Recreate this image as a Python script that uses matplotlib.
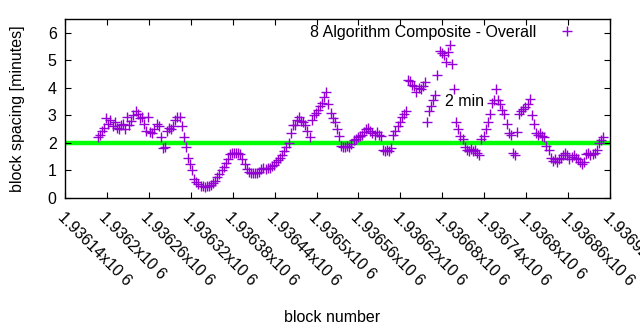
import numpy as np
import matplotlib
matplotlib.use("Agg")
import matplotlib.pyplot as plt

# block spacing samples, every 3rd block starting at first_block
first_block = 1936187
block_step = 3
spacing = [
    2.20, 2.30, 2.42, 2.55, 2.90, 2.70, 2.85, 2.60, 2.75, 2.55,
    2.50, 2.65, 2.70, 2.50, 2.95, 2.65, 2.80, 3.00, 3.15, 3.05,
    2.90, 2.95, 2.70, 2.45, 2.95, 2.40, 2.35, 2.50, 2.70, 2.60,
    2.20, 1.80, 1.85, 2.45, 2.55, 2.50, 2.60, 2.85, 2.95, 2.95,
    2.60, 2.20, 1.85, 1.45, 1.25, 1.00, 0.70, 0.58, 0.50, 0.45,
    0.42, 0.40, 0.42, 0.42, 0.47, 0.55, 0.62, 0.75, 0.88, 1.00,
    1.12, 1.28, 1.42, 1.58, 1.62, 1.65, 1.62, 1.65, 1.60, 1.42,
    1.25, 1.05, 0.95, 0.92, 0.90, 0.92, 0.90, 0.95, 1.05, 1.10,
    1.05, 1.08, 1.10, 1.15, 1.20, 1.30, 1.38, 1.45, 1.55, 1.72,
    1.85, 2.00, 2.35, 2.65, 2.65, 2.85, 2.95, 2.80, 2.75, 2.65,
    2.45, 2.20, 2.85, 3.00, 3.10, 3.20, 3.35, 3.45, 3.65, 3.85,
    3.40, 3.10, 2.90, 2.75, 2.50, 2.25, 1.90, 1.85, 1.85, 1.90,
    1.85, 1.95, 2.10, 2.15, 2.20, 2.25, 2.30, 2.40, 2.50, 2.55,
    2.45, 2.35, 2.30, 2.40, 2.30, 2.25, 1.75, 1.70, 1.75, 1.70,
    1.80, 2.30, 2.45, 2.60, 2.75, 2.95, 3.05, 3.15, 4.30, 4.25,
    4.10, 4.05, 3.85, 4.00, 3.95, 4.05, 4.20, 2.75, 3.15, 3.35,
    3.55, 3.75, 4.45, 5.35, 5.25, 5.20, 4.95, 5.30, 5.55, 4.85,
    3.95, 2.75, 2.50, 2.25, 2.15, 1.85, 1.75, 1.72, 1.78, 1.70,
    1.75, 1.65, 1.55, 2.15, 2.25, 2.50, 2.75, 3.05, 3.45, 3.55,
    3.95, 3.55, 3.40, 3.20, 3.05, 2.70, 2.35, 2.30, 1.65, 1.55,
    2.40, 3.05, 3.15, 3.25, 3.30, 3.40, 3.60, 3.00, 2.70, 2.35,
    2.30, 2.35, 2.25, 2.20, 1.90, 1.75, 1.45, 1.35, 1.40, 1.30,
    1.40, 1.45, 1.55, 1.62, 1.55, 1.40, 1.50, 1.55, 1.45, 1.40,
    1.30, 1.25, 1.30, 1.60, 1.65, 1.55, 1.60, 1.65, 1.75, 2.00,
    2.10, 2.20,
]
blocks = first_block + block_step * np.arange(len(spacing))

target_minutes = 2
x_ticks = list(range(1936140, 1936921, 60))
x_tick_labels = ["%gx10 6" % (t / 1e6) for t in x_ticks]

plt.rcParams["font.family"] = ["Liberation Sans", "DejaVu Sans"]
plt.rcParams["font.size"] = 11.5

fig = plt.figure(figsize=(6.4, 3.3), dpi=100)
ax = fig.add_axes([65 / 640, 1 - 198 / 330, 545 / 640, 179 / 330])

ax.axhline(target_minutes, color="#00ff00", lw=3.2, zorder=1)
ax.plot(blocks, spacing, "+", color="#9400d3", ms=6.5, mew=1.0,
        label="8 Algorithm Composite - Overall", zorder=2)
ax.text(1936684, 3.5, "2 min", va="center", ha="left")

ax.set_xlim(1936140, 1936920)
ax.set_ylim(0, 6.5)
ax.set_xticks(x_ticks)
ax.set_xticklabels(x_tick_labels, rotation=-45, ha="left", va="top",
                   rotation_mode="anchor")
ax.set_yticks(range(0, 7))
ax.tick_params(direction="in", top=True, right=True, length=4, width=0.8,
               pad=6)
ax.tick_params(axis="x", pad=8)
for s in ax.spines.values():
    s.set_linewidth(1.0)

ax.set_xlabel("block number")
ax.set_ylabel("block spacing [minutes]")
ax.yaxis.set_label_coords(-0.073, 0.5)
ax.xaxis.set_label_coords(0.49, -0.625)

ax.legend(loc="center right", frameon=False, markerfirst=False,
          handlelength=1.5, borderaxespad=0, handletextpad=1.2,
          bbox_to_anchor=(0.955, 0.925))

fig.savefig("out.png", dpi=100)
